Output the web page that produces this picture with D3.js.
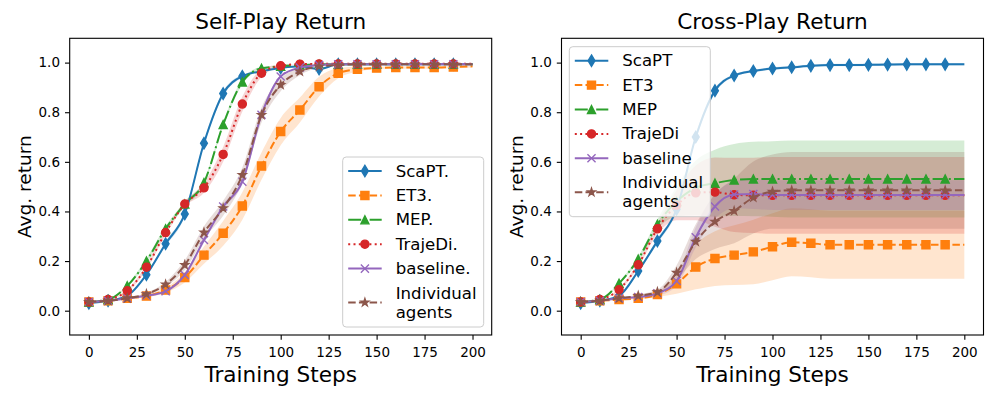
<!doctype html>
<html lang="en-US">
<head>
<meta charset="utf-8">
<title>Self-Play and Cross-Play Return</title>
<script src="https://cdn.jsdelivr.net/npm/d3@7"></script>
<style>
  html, body { margin: 0px; padding: 0px; background: #ffffff; }
  text { font-family: "DejaVu Sans", sans-serif; fill: #000; }
</style>
</head>
<body>
<svg id="chart" width="997" height="399"></svg>
<script>
// ---- data ----
var steps = [0, 10, 20, 30, 40, 50, 60, 70, 80, 90, 100, 110, 120, 130, 140, 150, 160, 170, 180, 190, 200];
var xTicks = [0, 25, 50, 75, 100, 125, 150, 175, 200];
var yTicks = [0.0, 0.2, 0.4, 0.6, 0.8, 1.0];

var selfLabels  = ["ScaPT.", "ET3.", "MEP.", "TrajeDi.", "baseline.", "Individual\nagents"];
var crossLabels = ["ScaPT", "ET3", "MEP", "TrajeDi", "baseline", "Individual\nagents"];

// self-play mean returns
var selfScaPT = [0.03, 0.04, 0.06, 0.145, 0.27, 0.39, 0.675, 0.875, 0.945, 0.965, 0.978, 0.985, 0.974, 0.993, 0.993, 0.993, 0.993, 0.993, 0.993, 0.993, 0.993];
var selfET3   = [0.035, 0.04, 0.05, 0.059, 0.083, 0.134, 0.224, 0.312, 0.422, 0.583, 0.722, 0.809, 0.903, 0.957, 0.973, 0.978, 0.98, 0.98, 0.98, 0.982, 0.985];
var selfMEP   = [0.035, 0.045, 0.1, 0.2, 0.33, 0.43, 0.516, 0.75, 0.922, 0.977, 0.985, 0.99, 0.993, 0.993, 0.993, 0.993, 0.993, 0.993, 0.993, 0.993, 0.993];
var selfTraj  = [0.035, 0.045, 0.08, 0.175, 0.315, 0.43, 0.495, 0.63, 0.833, 0.957, 0.987, 0.994, 0.995, 0.995, 0.995, 0.995, 0.995, 0.995, 0.995, 0.995, 0.995];
var selfBase  = [0.035, 0.04, 0.05, 0.06, 0.078, 0.144, 0.285, 0.42, 0.52, 0.79, 0.944, 0.98, 0.99, 0.993, 0.993, 0.993, 0.993, 0.993, 0.993, 0.993, 0.993];
var selfIndiv = [0.035, 0.04, 0.05, 0.067, 0.106, 0.184, 0.315, 0.413, 0.547, 0.789, 0.91, 0.964, 0.985, 0.99, 0.993, 0.993, 0.993, 0.993, 0.993, 0.993, 0.993];

// self-play spread (shaded bands)
var selfScaPTSd = [0, 0, 0, 0.005, 0.01, 0.01, 0.01, 0.01, 0.005, 0, 0, 0, 0, 0, 0, 0, 0, 0, 0, 0, 0];
var selfET3Sd   = [0, 0, 0, 0.005, 0.01, 0.02, 0.035, 0.05, 0.055, 0.055, 0.055, 0.05, 0.04, 0.02, 0.01, 0.005, 0.005, 0.005, 0.005, 0.005, 0.005];
var selfMEPSd   = [0, 0, 0.005, 0.01, 0.01, 0.01, 0.01, 0.01, 0.01, 0.005, 0, 0, 0, 0, 0, 0, 0, 0, 0, 0, 0];
var selfTrajSd  = [0, 0, 0.005, 0.01, 0.01, 0.01, 0.02, 0.03, 0.03, 0.015, 0.005, 0, 0, 0, 0, 0, 0, 0, 0, 0, 0];
var selfBaseSd  = [0, 0, 0, 0.005, 0.005, 0.01, 0.01, 0.01, 0.01, 0.01, 0.005, 0, 0, 0, 0, 0, 0, 0, 0, 0, 0];
var selfIndivSd = [0, 0, 0, 0.005, 0.01, 0.02, 0.025, 0.03, 0.03, 0.03, 0.025, 0.015, 0.005, 0, 0, 0, 0, 0, 0, 0, 0];

// cross-play mean returns
var crossScaPT = [0.03, 0.04, 0.06, 0.16, 0.281, 0.409, 0.70, 0.887, 0.948, 0.966, 0.976, 0.981, 0.987, 0.99, 0.99, 0.991, 0.992, 0.993, 0.993, 0.993, 0.993];
var crossET3   = [0.035, 0.04, 0.045, 0.05, 0.065, 0.108, 0.176, 0.21, 0.224, 0.237, 0.258, 0.276, 0.272, 0.266, 0.266, 0.266, 0.266, 0.266, 0.266, 0.266, 0.266];
var crossMEP   = [0.035, 0.045, 0.11, 0.208, 0.348, 0.44, 0.495, 0.514, 0.527, 0.531, 0.531, 0.531, 0.531, 0.531, 0.531, 0.531, 0.531, 0.531, 0.531, 0.531, 0.531];
var crossTraj  = [0.035, 0.045, 0.085, 0.185, 0.33, 0.425, 0.475, 0.478, 0.467, 0.465, 0.465, 0.465, 0.465, 0.465, 0.465, 0.465, 0.465, 0.465, 0.465, 0.465, 0.465];
var crossBase  = [0.035, 0.04, 0.05, 0.055, 0.07, 0.12, 0.296, 0.42, 0.468, 0.47, 0.466, 0.466, 0.466, 0.466, 0.466, 0.466, 0.466, 0.466, 0.466, 0.466, 0.466];
var crossIndiv = [0.035, 0.04, 0.05, 0.06, 0.075, 0.153, 0.278, 0.359, 0.402, 0.456, 0.48, 0.485, 0.485, 0.485, 0.485, 0.485, 0.485, 0.485, 0.485, 0.485, 0.485];

// cross-play spread
var crossScaPTSd = [0, 0, 0, 0.005, 0.01, 0.01, 0.01, 0.01, 0.005, 0.005, 0.005, 0.005, 0.005, 0.005, 0.005, 0.005, 0.005, 0.005, 0.005, 0.005, 0.005];
var crossET3Sd   = [0, 0, 0, 0.005, 0.01, 0.04, 0.09, 0.11, 0.12, 0.13, 0.135, 0.137, 0.137, 0.137, 0.137, 0.137, 0.137, 0.137, 0.137, 0.137, 0.137];
var crossMEPSd   = [0, 0, 0.005, 0.01, 0.02, 0.06, 0.11, 0.135, 0.145, 0.15, 0.152, 0.155, 0.155, 0.155, 0.155, 0.155, 0.155, 0.155, 0.155, 0.155, 0.155];
var crossTrajSd  = [0, 0, 0.005, 0.01, 0.02, 0.06, 0.11, 0.14, 0.15, 0.152, 0.155, 0.155, 0.155, 0.155, 0.155, 0.155, 0.155, 0.155, 0.155, 0.155, 0.155];
var crossBaseSd  = [0, 0, 0, 0.005, 0.01, 0.02, 0.04, 0.05, 0.055, 0.06, 0.06, 0.06, 0.06, 0.06, 0.06, 0.06, 0.06, 0.06, 0.06, 0.06, 0.06];
var crossIndivSd = [0, 0, 0, 0.005, 0.01, 0.03, 0.07, 0.11, 0.13, 0.145, 0.15, 0.155, 0.155, 0.155, 0.155, 0.155, 0.155, 0.155, 0.155, 0.155, 0.155];

// ---- styles (matplotlib tab10 look) ----
var colors  = ["#1f77b4", "#ff7f0e", "#2ca02c", "#d62728", "#9467bd", "#8c564b"];
var dashes  = ["none", "7.5,3.2", "13,3.2,2,3.2", "2,3.3", "none", "7.5,3.2"];
var markers = ["d", "s", "^", "o", "x", "*"];

var svg = d3.select("#chart");

function markerPath(kind) {
  var s = 4.05;
  if (kind == "d") return "M0," + (-5.73) + "L3.44,0L0,5.73L-3.44,0Z";
  if (kind == "s") return "M" + (-s) + "," + (-s) + "h" + (2 * s) + "v" + (2 * s) + "h" + (-2 * s) + "Z";
  if (kind == "^") return "M0," + (-s) + "L" + s + "," + s + "L" + (-s) + "," + s + "Z";
  if (kind == "o") return d3.symbol().type(d3.symbolCircle).size(Math.PI * s * s)();
  if (kind == "x") return "M" + (-s) + "," + (-s) + "L" + s + "," + s + "M" + (-s) + "," + s + "L" + s + "," + (-s);
  if (kind == "*") {
    var pts = [];
    for (var i = 0; i < 10; i++) {
      var r = (i % 2 == 0) ? s : s * 0.382;
      var a = -Math.PI / 2 + i * Math.PI / 5;
      pts.push([r * Math.cos(a), r * Math.sin(a)]);
    }
    return "M" + pts.map(function(p) { return p[0].toFixed(2) + "," + p[1].toFixed(2); }).join("L") + "Z";
  }
}

function drawMarker(g, i, cx, cy) {
  g.append("path")
    .attr("d", markerPath(markers[i]))
    .attr("transform", "translate(" + cx + "," + cy + ")")
    .attr("fill", markers[i] == "x" ? "none" : colors[i])
    .attr("stroke", colors[i])
    .attr("stroke-width", 1.35)
    .attr("stroke-linejoin", "miter");
}

function drawPanel(left, right, title, means, sds, labels, legendPos) {
  var top = 38.3, bottom = 335;
  var x = d3.scaleLinear().domain([-10, 210]).range([left, right]);
  var y = d3.scaleLinear().domain([-0.098, 1.098]).range([bottom, top]);

  var g = svg.append("g");

  // shaded bands first (collections sit under lines)
  means.forEach(function(m, i) {
    var area = d3.area()
      .x(function(d, k) { return x(steps[k]); })
      .y0(function(d, k) { return y(d - sds[i][k]); })
      .y1(function(d, k) { return y(d + sds[i][k]); })
      .curve(d3.curveMonotoneX);
    g.append("path").datum(m)
      .attr("d", area)
      .attr("fill", colors[i])
      .attr("fill-opacity", 0.2)
      .attr("stroke", "none");
  });

  // lines + markers (no marker on the last step)
  means.forEach(function(m, i) {
    var line = d3.line()
      .x(function(d, k) { return x(steps[k]); })
      .y(function(d) { return y(d); })
      .curve(d3.curveMonotoneX);
    g.append("path").datum(m)
      .attr("d", line)
      .attr("fill", "none")
      .attr("stroke", colors[i])
      .attr("stroke-width", 2)
      .attr("stroke-dasharray", dashes[i]);
    m.forEach(function(v, k) {
      if (k < steps.length - 1) drawMarker(g, i, x(steps[k]), y(v));
    });
  });

  // axes
  var xa = g.append("g").attr("transform", "translate(0," + bottom + ")")
    .call(d3.axisBottom(x).tickValues(xTicks).tickFormat(d3.format("d")).tickSize(4.7).tickPadding(7.7));
  var ya = g.append("g").attr("transform", "translate(" + left + ",0)")
    .call(d3.axisLeft(y).tickValues(yTicks).tickFormat(d3.format(".1f")).tickSize(4.7).tickPadding(5));
  [xa, ya].forEach(function(a) {
    a.select(".domain").remove();
    a.selectAll("line").attr("stroke", "#000").attr("stroke-width", 1.1);
    a.selectAll("text").attr("font-size", "13.5px").attr("font-family", "DejaVu Sans, sans-serif").attr("fill", "#000");
  });

  g.append("rect")
    .attr("x", left).attr("y", top)
    .attr("width", right - left).attr("height", bottom - top)
    .attr("fill", "none").attr("stroke", "#000").attr("stroke-width", 1.1);

  // titles and axis labels
  g.append("text").attr("x", (left + right) / 2).attr("y", 29.3)
    .attr("text-anchor", "middle").attr("font-size", "21.6px").text(title);
  g.append("text").attr("x", (left + right) / 2).attr("y", 381.5)
    .attr("text-anchor", "middle").attr("font-size", "21.6px").text("Training Steps");
  g.append("text")
    .attr("transform", "translate(" + (left - 39) + "," + ((top + bottom) / 2) + ") rotate(-90)")
    .attr("text-anchor", "middle").attr("font-size", "18.5px").text("Avg. return");

  // legend
  var lg = svg.append("g").attr("transform", "translate(" + legendPos[0] + "," + legendPos[1] + ")");
  lg.append("rect").attr("x", 0).attr("y", 0).attr("width", 141).attr("height", 170)
    .attr("rx", 3.5).attr("ry", 3.5)
    .attr("fill", "#fff").attr("fill-opacity", 0.8)
    .attr("stroke", "#cccccc").attr("stroke-width", 1);
  labels.forEach(function(lab, i) {
    var lines = lab.split("\n");
    var cy = 14 + i * 24.4;
    var hy = cy + (lines.length - 1) * 9.5;
    lg.append("line")
      .attr("x1", 5.5).attr("x2", 39).attr("y1", hy).attr("y2", hy)
      .attr("stroke", colors[i]).attr("stroke-width", 2)
      .attr("stroke-dasharray", dashes[i]);
    drawMarker(lg, i, 22.2, hy);
    lines.forEach(function(t, j) {
      lg.append("text").attr("x", 53).attr("y", cy + j * 19)
        .attr("dominant-baseline", "central")
        .attr("font-size", "16.6px").text(t);
    });
  });
}

drawPanel(69.7, 491.7, "Self-Play Return",
  [selfScaPT, selfET3, selfMEP, selfTraj, selfBase, selfIndiv],
  [selfScaPTSd, selfET3Sd, selfMEPSd, selfTrajSd, selfBaseSd, selfIndivSd],
  selfLabels, [342.7, 157]);

drawPanel(561.5, 983.5, "Cross-Play Return",
  [crossScaPT, crossET3, crossMEP, crossTraj, crossBase, crossIndiv],
  [crossScaPTSd, crossET3Sd, crossMEPSd, crossTrajSd, crossBaseSd, crossIndivSd],
  crossLabels, [569.3, 46.7]);
</script>
</body>
</html>
